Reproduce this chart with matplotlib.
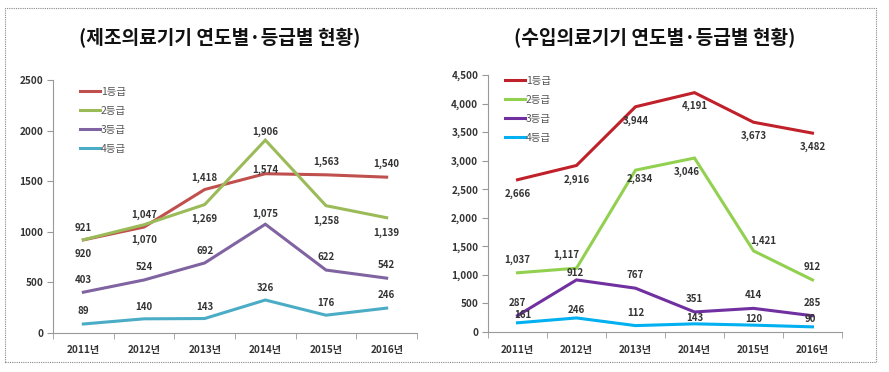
import matplotlib.pyplot as plt
import matplotlib.patches as mpatches

plt.rcParams['font.family'] = ['Noto Sans CJK KR', 'DejaVu Sans']

# data
years = ['2011년', '2012년', '2013년', '2014년', '2015년', '2016년']
grades = ['1등급', '2등급', '3등급', '4등급']

mfg_g1 = [920, 1047, 1418, 1574, 1563, 1540]
mfg_g2 = [921, 1070, 1269, 1906, 1258, 1139]
mfg_g3 = [403, 524, 692, 1075, 622, 542]
mfg_g4 = [89, 140, 143, 326, 176, 246]

imp_g1 = [2666, 2916, 3944, 4191, 3673, 3482]
imp_g2 = [1037, 1117, 2834, 3046, 1421, 912]
imp_g3 = [287, 912, 767, 351, 414, 285]
imp_g4 = [161, 246, 112, 143, 120, 90]

titles = ['(제조의료기기 연도별·등급별 현황)', '(수입의료기기 연도별·등급별 현황)']

# label offsets in pixels (dx, dy)
mfg_offsets = [
    [(0, -14), (0, 12), (0, 12), (0, 4), (0, 13), (0, 13)],
    [(0, 12), (0, -15), (0, -14), (0, 8), (0, -15), (0, -15)],
    [(0, 12), (0, 13), (0, 12), (0, 10), (0, 13), (0, 13)],
    [(0, 13), (0, 12), (0, 12), (0, 12), (0, 12), (0, 13)],
]
imp_offsets = [
    [(0, -14), (0, -14), (0, -14), (0, -13), (0, -14), (0, -14)],
    [(0, 13), (-10, 13), (4, -9), (-8, -14), (10, 10), (0, 13)],
    [(0, 13), (-1, 7), (0, 13), (0, 13), (0, 13), (0, 13)],
    [(5, 8), (0, 8), (0, 13), (0, 6), (0, 6), (-2, 8)],
]

mfg_colors = ['#C0504D', '#9BBB59', '#8064A2', '#4BACC6']
imp_colors = ['#C0202A', '#92D050', '#7030A0', '#00B0F0']

fig = plt.figure(figsize=(8.89, 3.72), dpi=100)
W, H = 889, 372


def px_axes(x0, y0, x1, y1):
    return fig.add_axes([x0 / W, 1 - y1 / H, (x1 - x0) / W, (y1 - y0) / H])


def draw(ax, series, colors, offsets, ymax, comma, legend_xy):
    x = list(range(len(years)))
    for name, vals, c, offs in zip(grades, series, colors, offsets):
        ax.plot(x, vals, color=c, lw=2.2, label=name, solid_joinstyle='miter')
        for xi, v, (dx, dy) in zip(x, vals, offs):
            txt = f'{v:,}'
            ax.annotate(txt, (xi, v), xytext=(dx, dy), textcoords='offset pixels',
                        ha='center', va='center', fontsize=7, fontweight='bold',
                        color='#333333')
    ax.set_xlim(-0.5, len(years) - 0.5)
    ax.set_ylim(0, ymax)
    ax.set_yticks(range(0, ymax + 1, 500))
    if comma:
        ax.set_yticklabels([f'{t:,}' for t in range(0, ymax + 1, 500)])
    ax.set_xticks(x)
    ax.set_xticklabels(years)
    ax.set_xticks([i - 0.5 for i in range(len(years) + 1)], minor=True)
    ax.tick_params(axis='x', which='major', length=0, pad=9)
    ax.tick_params(axis='x', which='minor', length=4, color='#999999')
    ax.tick_params(axis='y', length=4, color='#999999', pad=3)
    for lab in ax.get_xticklabels() + ax.get_yticklabels():
        lab.set_fontsize(7.2)
        lab.set_fontweight('bold')
        lab.set_color('#333333')
    for s in ['top', 'right']:
        ax.spines[s].set_visible(False)
    for s in ['left', 'bottom']:
        ax.spines[s].set_color('#999999')
    lx, ly = legend_xy
    ax.legend(loc='upper left', bbox_to_anchor=(lx / W, 1 - ly / H),
              bbox_transform=fig.transFigure, frameon=False, fontsize=7.5,
              handlelength=1.9, handletextpad=0.1, labelspacing=0.85,
              borderpad=0, borderaxespad=0, labelcolor='#555555')


ax1 = px_axes(53, 80, 417, 333)
draw(ax1, [mfg_g1, mfg_g2, mfg_g3, mfg_g4], mfg_colors, mfg_offsets, 2500, False, (80, 87))

ax2 = px_axes(488, 75, 842, 332)
draw(ax2, [imp_g1, imp_g2, imp_g3, imp_g4], imp_colors, imp_offsets, 4500, True, (505, 76))

fig.text(220 / W, 1 - 38 / H, titles[0], ha='center', va='center', fontsize=13.8,
         fontweight='bold', color='#111111')
fig.text(655 / W, 1 - 38 / H, titles[1], ha='center', va='center', fontsize=13.8,
         fontweight='bold', color='#111111')

border = mpatches.Rectangle((5 / W, 1 - 362 / H), 871 / W, 354 / H, transform=fig.transFigure,
                            fill=False, ls=(0, (1, 1)), lw=0.8, edgecolor='#888888')
fig.patches.append(border)

plt.savefig('out.png', dpi=100)
